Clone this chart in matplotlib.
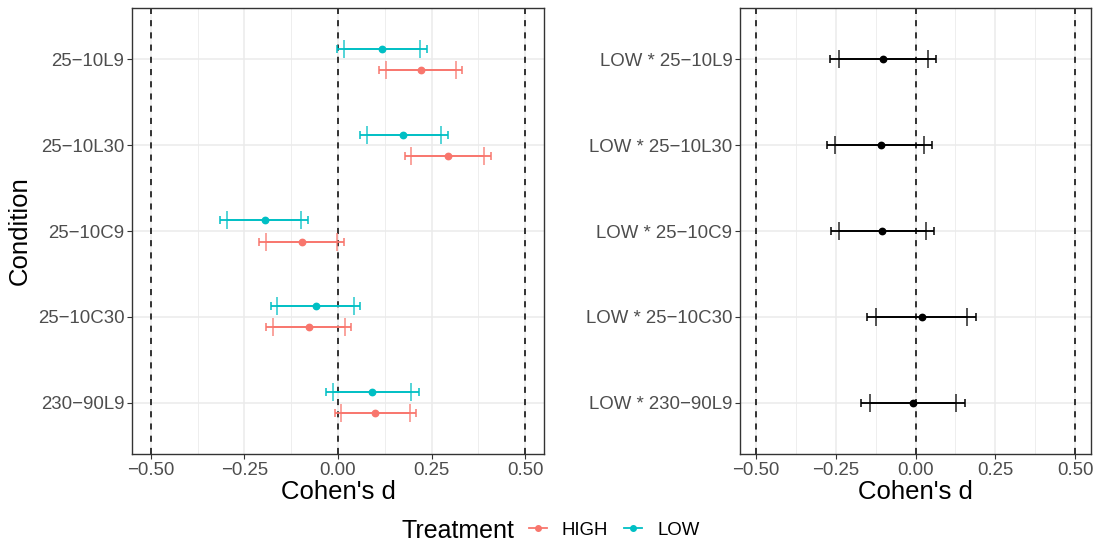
import matplotlib
matplotlib.use("Agg")
import matplotlib.pyplot as plt
from matplotlib.lines import Line2D
from matplotlib.ticker import MultipleLocator
import numpy as np

plt.rcParams['font.family'] = ['Liberation Sans', 'DejaVu Sans']

conditions = ["25\u221210L9", "25\u221210L30", "25\u221210C9", "25\u221210C30", "230\u221290L9"]

low_d = [0.118, 0.174, -0.196, -0.060, 0.090]
low_lo95 = [-0.002, 0.058, -0.316, -0.180, -0.033]
low_hi95 = [0.238, 0.295, -0.079, 0.060, 0.215]
low_lo90 = [0.015, 0.077, -0.296, -0.162, -0.013]
low_hi90 = [0.220, 0.274, -0.099, 0.043, 0.195]

high_d = [0.222, 0.294, -0.095, -0.078, 0.099]
high_lo95 = [0.110, 0.180, -0.212, -0.192, -0.009]
high_hi95 = [0.332, 0.408, 0.017, 0.036, 0.209]
high_lo90 = [0.128, 0.196, -0.191, -0.174, 0.008]
high_hi90 = [0.315, 0.390, -0.003, 0.019, 0.192]

inter_labels = ["LOW * 25\u221210L9", "LOW * 25\u221210L30", "LOW * 25\u221210C9",
                "LOW * 25\u221210C30", "LOW * 230\u221290L9"]
inter_d = [-0.101, -0.109, -0.104, 0.019, -0.007]
inter_lo95 = [-0.267, -0.276, -0.265, -0.151, -0.170]
inter_hi95 = [0.065, 0.053, 0.057, 0.189, 0.154]
inter_lo90 = [-0.240, -0.251, -0.240, -0.125, -0.144]
inter_hi90 = [0.039, 0.027, 0.032, 0.162, 0.128]

xticks = [-0.5, -0.25, 0.0, 0.25, 0.5]
xticklabels = ["\u22120.50", "\u22120.25", "0.00", "0.25", "0.50"]

HIGH_COL = "#F8766D"
LOW_COL = "#00BFC4"

W, H = 1099, 542
fig = plt.figure(figsize=(W / 100, H / 100), dpi=100)

def px_axes(x0, y0, x1, y1):
    return fig.add_axes([x0 / W, 1 - y1 / H, (x1 - x0) / W, (y1 - y0) / H])

ax1 = px_axes(132, 8, 544, 454)
ax2 = px_axes(740, 8, 1091, 454)

TICK_FS = 13.4
TITLE_FS = 18.5

def style(ax, labels):
    ax.set_xlim(-0.55, 0.55)
    ax.set_ylim(len(labels) - 0.4, -0.6)
    ax.set_xticks(xticks)
    ax.set_xticklabels(xticklabels)
    ax.xaxis.set_minor_locator(MultipleLocator(0.125))
    ax.set_yticks(np.arange(len(labels)))
    ax.set_yticklabels(labels)
    ax.grid(which='major', color='#EBEBEB', linewidth=1.1, zorder=0)
    ax.grid(which='minor', axis='x', color='#EBEBEB', linewidth=0.6, zorder=0)
    ax.tick_params(which='minor', length=0)
    ax.tick_params(which='major', length=3.5, width=0.8, color='#333333',
                   labelcolor='#4D4D4D', labelsize=TICK_FS, pad=2)
    for s in ax.spines.values():
        s.set_color('#333333')
        s.set_linewidth(1.0)
    ax.set_axisbelow(True)
    for v in xticks[::2]:
        ax.axvline(v, color='black', linestyle=(0, (4, 4)), linewidth=1.1, zorder=1)
    ax.set_xlabel("Cohen's d", fontsize=TITLE_FS, labelpad=1)

def draw(ax, y, d, lo95, hi95, lo90, hi90, color):
    d = np.array(d); lo95 = np.array(lo95); hi95 = np.array(hi95)
    lo90 = np.array(lo90); hi90 = np.array(hi90)
    ax.errorbar(d, y, xerr=[d - lo95, hi95 - d], fmt='none', ecolor=color,
                elinewidth=1.3, capsize=2.9, capthick=1.1, zorder=3)
    ax.errorbar(d, y, xerr=[d - lo90, hi90 - d], fmt='none', ecolor=color,
                elinewidth=1.3, capsize=6.2, capthick=1.1, alpha=0.85, zorder=3)
    ax.plot(d, y, 'o', color=color, markersize=4.6, zorder=4, linestyle='none')

style(ax1, conditions)
style(ax2, inter_labels)
ypos = np.arange(len(conditions))
draw(ax1, ypos - 0.125, low_d, low_lo95, low_hi95, low_lo90, low_hi90, LOW_COL)
draw(ax1, ypos + 0.125, high_d, high_lo95, high_hi95, high_lo90, high_hi90, HIGH_COL)
draw(ax2, np.arange(len(inter_labels)), inter_d, inter_lo95, inter_hi95, inter_lo90, inter_hi90, 'black')
ax1.set_ylabel("Condition", fontsize=TITLE_FS, labelpad=4)

fig.text(402 / W, 1 - 531 / H, "Treatment", fontsize=18, va='center', ha='left')
handles = [Line2D([0], [0], color=HIGH_COL, marker='o', markersize=4.0, linewidth=1.3),
           Line2D([0], [0], color=LOW_COL, marker='o', markersize=4.0, linewidth=1.3)]
fig.legend(handles, ["HIGH", "LOW"], loc='center left',
           bbox_to_anchor=(529 / W, 1 - 530 / H), ncol=2, frameon=False,
           fontsize=TICK_FS, handlelength=0.97, handletextpad=0.8, columnspacing=0.86,
           borderaxespad=0, borderpad=0)

fig.savefig("out.png", dpi=100)
